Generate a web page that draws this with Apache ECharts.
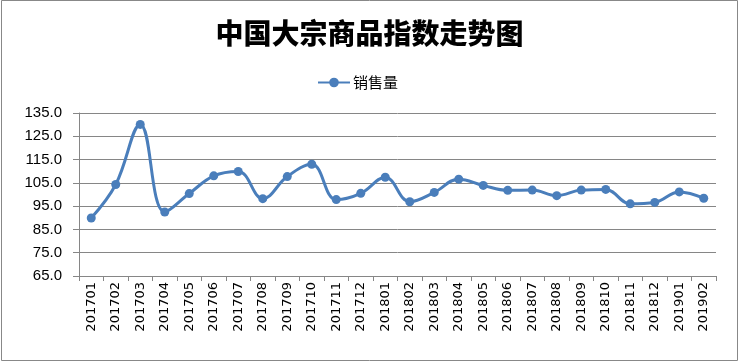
<!DOCTYPE html>
<html><head><meta charset="utf-8">
<script src="https://cdn.jsdelivr.net/npm/echarts@6/dist/echarts.min.js"></script>
<style>html,body{margin:0;padding:0;background:#fff}#c{width:739px;height:364px}</style>
</head><body><div id="c"></div>
<script>
const categories = ['201701','201702','201703','201704','201705','201706','201707','201708','201709','201710','201711','201712','201801','201802','201803','201804','201805','201806','201807','201808','201809','201810','201811','201812','201901','201902'];
const sales = [89.9,104.3,130.1,92.5,100.4,108.0,109.9,98.2,107.7,113.0,97.8,100.5,107.4,96.9,100.9,106.6,103.9,101.8,101.9,99.5,101.9,102.2,96.0,96.6,101.1,98.4];
const yTicks = [65,75,85,95,105,115,125,135];
const title = '中国大宗商品指数走势图';
const seriesName = '销售量';

const chart = echarts.init(document.getElementById('c'));
chart.setOption({
  animation:false,
  backgroundColor:'#fff',
  title:{text:title,left:'center',top:14,textStyle:{fontFamily:'Noto Sans CJK SC',fontWeight:900,fontSize:28,color:'#000'}},
  legend:{top:70,left:312,itemWidth:32,itemHeight:12,itemGap:4,
    textStyle:{fontFamily:'Noto Sans CJK SC',fontSize:15,color:'#000',padding:[0,0,0,-2]},
    data:[{name:seriesName}]},
  grid:{left:79,right:23,top:113,bottom:88},
  xAxis:{type:'category',data:categories,boundaryGap:true,
    axisLine:{lineStyle:{color:'#868686',width:1}},
    axisTick:{show:true,length:5,lineStyle:{color:'#868686'}},
    axisLabel:{rotate:90,margin:6,interval:0,fontFamily:'DejaVu Sans',fontSize:13,color:'#000'}},
  yAxis:{type:'value',min:65,max:135,
    axisLine:{show:true,lineStyle:{color:'#868686'}},
    axisTick:{show:true,length:6,customValues:yTicks,lineStyle:{color:'#868686'}},
    axisLabel:{customValues:yTicks,margin:17,fontFamily:'Liberation Sans',fontSize:15,color:'#000',formatter:v=>v.toFixed(1)},
    splitLine:{show:true,lineStyle:{color:'#868686',width:1}}},
  series:[{name:seriesName,type:'line',data:sales,smooth:0.4,symbol:'circle',symbolSize:9,
    lineStyle:{color:'#4a7ebb',width:3},itemStyle:{color:'#4a7ebb'}}],
  graphic:[{type:'rect',shape:{x:1.5,y:0.5,width:736,height:360},style:{fill:null,stroke:'#888',lineWidth:1},silent:true}]
});
</script></body></html>
